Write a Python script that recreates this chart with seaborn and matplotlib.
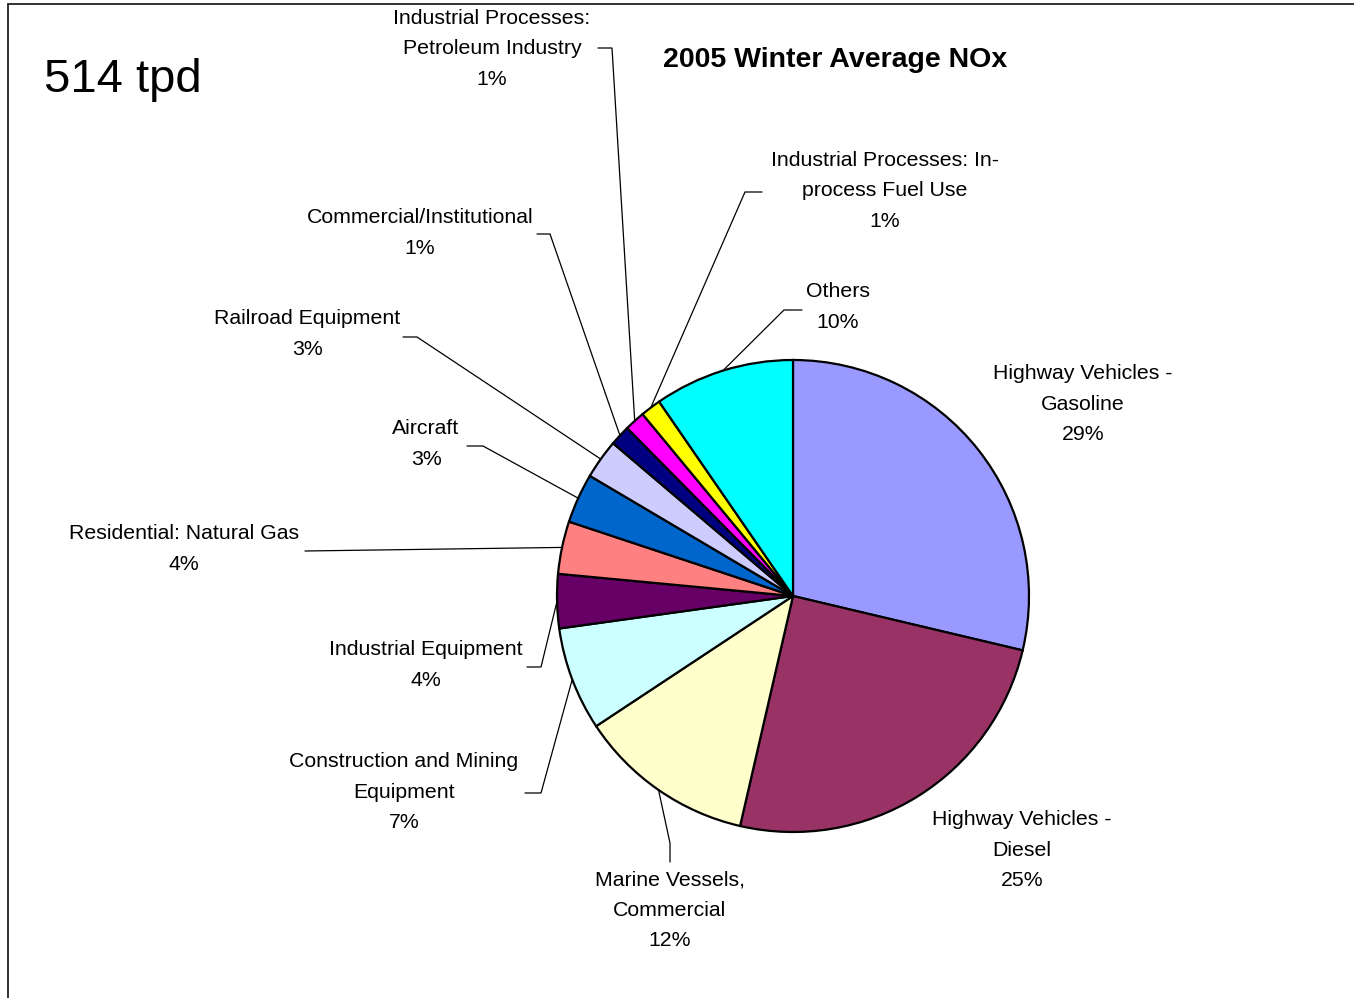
import matplotlib
matplotlib.use("Agg")
import matplotlib.pyplot as plt
import seaborn as sns
import numpy as np
from matplotlib.lines import Line2D

# ---------------- data ----------------
categories = [
    "Highway Vehicles -\nGasoline",
    "Highway Vehicles -\nDiesel",
    "Marine Vessels,\nCommercial",
    "Construction and Mining\nEquipment",
    "Industrial Equipment",
    "Residential: Natural Gas",
    "Aircraft",
    "Railroad Equipment",
    "Commercial/Institutional",
    "Industrial Processes:\nPetroleum Industry",
    "Industrial Processes: In-\nprocess Fuel Use",
    "Others",
]
shares = [28.7, 24.9, 12.1, 7.1, 3.7, 3.6, 3.4, 2.7, 1.4, 1.4, 1.4, 9.6]
colors = ["#9999FF", "#993366", "#FFFFCC", "#CCFFFF", "#660066", "#FF8080",
          "#0066CC", "#CCCCFF", "#000080", "#FF00FF", "#FFFF00", "#00FFFF"]
title = "2005 Winter Average NOx"
total_label = "514 tpd"

# ---------------- layout (pixels) ----------------
W, H = 1354, 998
CX, CY, R = 793, 596, 236

# label text centre, then leader elbow and leader end (None = no leader)
label_layout = [
    ((1083, 404), None, None),
    ((1022, 850), None, None),
    ((670, 910), (670, 843), (670, 862)),
    ((404, 792), (541, 793), (525, 793)),
    ((426, 665), (541, 667), (527, 667)),
    ((184, 549), (305, 551), (305, 551)),
    ((426, 444), (483, 446), (467, 446)),
    ((307, 334), (417, 337), (403, 337)),
    ((420, 233), (550, 234), (537, 234)),
    ((492, 49), (612, 48), (598, 48)),
    ((885, 191), (745, 192), (762, 192)),
    ((838, 307), (784, 310), (802, 310)),
]


def P(px, py):
    return ((px - CX) / R, (CY - py) / R)


sns.set_theme(style="white")
plt.rcParams["font.family"] = ["Liberation Sans", "DejaVu Sans"]

fig = plt.figure(figsize=(W / 100, H / 100), dpi=100)
fig.patch.set_facecolor("white")
ax = fig.add_axes([0, 0, 1, 1])

wedges, _ = ax.pie(shares, colors=colors, startangle=90, counterclock=False,
                   radius=1, center=(0, 0),
                   wedgeprops=dict(edgecolor="black", linewidth=1.6))

ax.set_xlim(-CX / R, (W - CX) / R)
ax.set_ylim(-(H - CY) / R, CY / R)
ax.set_aspect("equal")
ax.axis("off")

total = sum(shares)
for w, cat, v, (tc, elbow, end) in zip(wedges, categories, shares, label_layout):
    txt = f"{cat}\n{round(v / total * 100)}%"
    ax.text(*P(*tc), txt, ha="center", va="center", multialignment="center",
            fontsize=15.3, color="black", linespacing=1.75, clip_on=False)
    if elbow is not None:
        mid = np.deg2rad((w.theta1 + w.theta2) / 2)
        ex, ey = np.cos(mid), np.sin(mid)
        bx, by = P(*elbow)
        dx, dy = P(*end)
        ax.plot([ex, bx, dx], [ey, by, dy], color="black", lw=0.9,
                solid_joinstyle="miter", clip_on=False, zorder=1)

ax.text(*P(44, 80), total_label, ha="left", va="center", fontsize=34,
        color="black")
ax.text(*P(835, 60), title, ha="center", va="center", fontsize=20.5,
        fontweight="bold", color="black")

# partial outer frame (top and left edges)
fig.add_artist(Line2D([8 / W, 1], [1 - 4 / H, 1 - 4 / H], color="#222222",
                      lw=1.3, transform=fig.transFigure))
fig.add_artist(Line2D([8 / W, 8 / W], [1 - 4 / H, 0], color="#222222",
                      lw=1.3, transform=fig.transFigure))

fig.savefig("out.png", dpi=100)
